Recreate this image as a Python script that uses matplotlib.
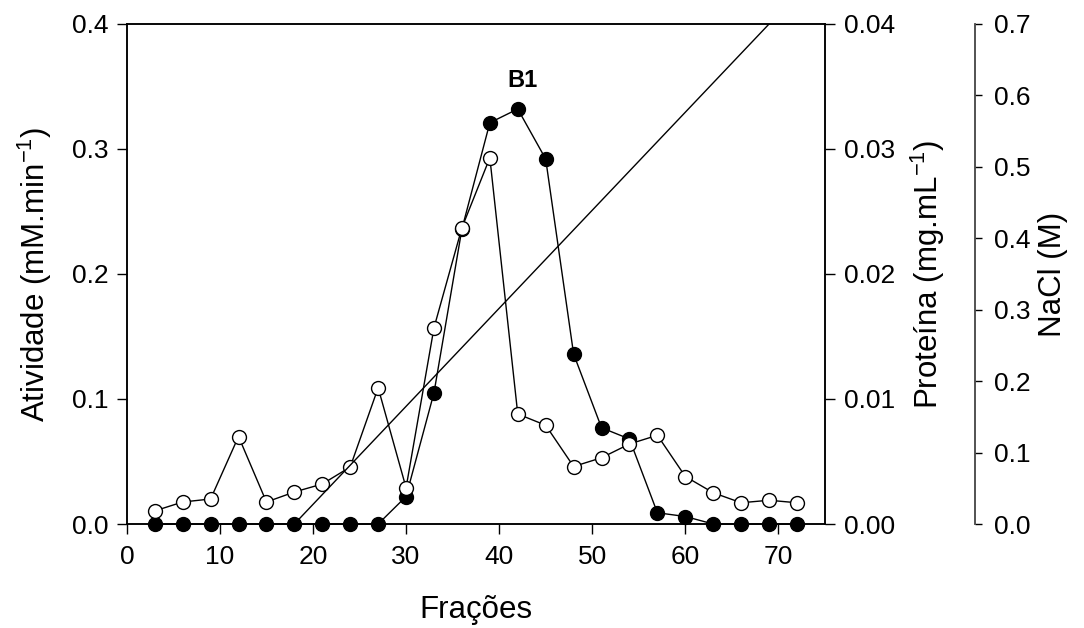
import matplotlib.pyplot as plt

plt.rcParams['font.family'] = ['Liberation Sans', 'DejaVu Sans']
plt.rcParams['mathtext.fontset'] = 'custom'
plt.rcParams['mathtext.rm'] = 'Liberation Sans'
plt.rcParams['mathtext.default'] = 'regular'

fracoes = [3, 6, 9, 12, 15, 18, 21, 24, 27, 30, 33, 36, 39, 42, 45, 48, 51, 54, 57, 60, 63, 66, 69, 72]
atividade = [0, 0, 0, 0, 0, 0, 0, 0, 0, 0.022, 0.105, 0.236, 0.321, 0.332, 0.292, 0.136,
             0.077, 0.068, 0.009, 0.006, 0, 0, 0, 0]
proteina = [0.00105, 0.00176, 0.0020, 0.0070, 0.00176, 0.00256, 0.0032, 0.00456, 0.0109,
            0.0029, 0.0157, 0.0237, 0.0293, 0.0088, 0.0079, 0.0046, 0.0053, 0.0064,
            0.0071, 0.0038, 0.0025, 0.0017, 0.0019, 0.0017]
nacl_x = [18, 69]
nacl_y = [0, 0.7]

fig = plt.figure(figsize=(10.84, 6.28), dpi=100)
ax = fig.add_axes([0.117, 0.1656, 0.644, 0.7962])

ax.plot(fracoes, atividade, '-o', color='black', mfc='black', mec='black',
        ms=10, lw=1, clip_on=False, zorder=3)
ax.set_xlim(0, 75)
ax.set_ylim(0, 0.4)
ax.set_xticks(range(0, 80, 10))
ax.set_yticks([0, 0.1, 0.2, 0.3, 0.4])
ax.set_yticklabels(['0.0', '0.1', '0.2', '0.3', '0.4'])
ax.set_xlabel('Frações', fontsize=22.5)
ax.set_ylabel('Atividade (mM.min$^{-1}$)', fontsize=22.5)
ax.xaxis.set_label_coords(0.5, -0.172)
ax.xaxis.label.set_va('center')
ax.yaxis.set_label_coords(-0.132, 0.5)
ax.yaxis.label.set_va('center')
ax.tick_params(axis='y', labelsize=19, length=7, width=1, pad=6)
ax.tick_params(axis='x', labelsize=19, length=7, width=1, pad=8)
ax.text(42.5, 0.355, 'B1', fontsize=17, fontweight='bold', ha='center', va='center')

ax2 = ax.twinx()
ax2.plot(fracoes, proteina, '-o', color='black', mfc='white', mec='black',
         ms=10, lw=1, clip_on=False, zorder=3)
ax2.set_ylim(0, 0.04)
ax2.set_yticks([0, 0.01, 0.02, 0.03, 0.04])
ax2.set_yticklabels(['0.00', '0.01', '0.02', '0.03', '0.04'])
ax2.set_ylabel('Proteína (mg.mL$^{-1}$)', fontsize=22.5)
ax2.yaxis.set_label_coords(1.1476, 0.5)
ax2.yaxis.label.set_va('center')
ax2.tick_params(labelsize=19, length=7, width=1, pad=7)

ax3 = ax.twinx()
ax3.spines['right'].set_position(('axes', 1.215))
for s in ['left', 'top', 'bottom']:
    ax3.spines[s].set_visible(False)
ax3.spines['right'].set_color('#444444')
ax3.spines['right'].set_linewidth(1.3)
ax3.plot(nacl_x, nacl_y, color='black', lw=1)
ax3.set_ylim(0, 0.7)
ax3.set_yticks([0, 0.1, 0.2, 0.3, 0.4, 0.5, 0.6, 0.7])
ax3.set_yticklabels(['0.0', '0.1', '0.2', '0.3', '0.4', '0.5', '0.6', '0.7'])
ax3.set_ylabel('NaCl (M)', fontsize=22.5)
ax3.yaxis.set_label_coords(1.3266, 0.5)
ax3.yaxis.label.set_va('center')
ax3.tick_params(labelsize=19, length=5, width=1, pad=9)

for a in (ax, ax2):
    for s in a.spines.values():
        s.set_linewidth(1.1)

fig.savefig('out.png', dpi=100)
